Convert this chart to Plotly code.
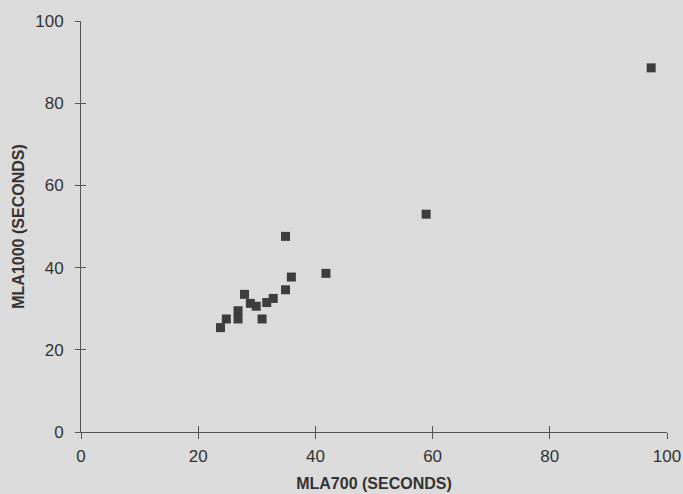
import plotly.graph_objects as go

# Data
mla700 = [23.8, 24.8, 26.8, 26.8, 27.9, 28.9, 29.9, 30.9, 31.7, 32.8, 34.9, 34.9, 35.9, 41.8, 58.9, 97.3]
mla1000 = [25.4, 27.5, 29.5, 27.5, 33.5, 31.3, 30.6, 27.5, 31.5, 32.5, 34.6, 47.6, 37.7, 38.6, 53.0, 88.6]
tick_vals = [0, 20, 40, 60, 80, 100]
x_title = "MLA700 (SECONDS)"
y_title = "MLA1000 (SECONDS)"

BG = "#dcdcdc"
AX = "#555555"
TXT = "#333333"
FONT = "Liberation Sans, Arial, sans-serif"

fig = go.Figure()
fig.add_trace(go.Scatter(
    x=mla700, y=mla1000, mode="markers",
    marker=dict(symbol="square", size=9, color="#3d3d3d", line=dict(width=0)),
    cliponaxis=False, showlegend=False, hoverinfo="x+y",
))
# empty trace to anchor the overlay axes (inside half of crossing ticks)
fig.add_trace(go.Scatter(x=[], y=[], xaxis="x2", yaxis="y2", showlegend=False))

common = dict(range=[0, 100], tickvals=tick_vals, showgrid=False, zeroline=False,
              showline=True, linecolor=AX, linewidth=1, tickcolor=AX, tickwidth=1,
              automargin=False)

fig.update_layout(
    width=683, height=494,
    margin=dict(l=81, r=16, t=21, b=62),
    paper_bgcolor=BG, plot_bgcolor=BG,
    font=dict(family=FONT, color=TXT, size=17),
    xaxis=dict(**common, ticks="outside", ticklen=6, ticklabelstandoff=3,
               tickfont=dict(size=17, color=TXT),
               title=dict(text=f"<b>{x_title}</b>", font=dict(size=16, color=TXT), standoff=12)),
    yaxis=dict(**common, ticks="outside", ticklen=5, ticklabelstandoff=8,
               tickfont=dict(size=17, color=TXT),
               title=dict(text=f"<b>{y_title}</b>", font=dict(size=16, color=TXT), standoff=6)),
    xaxis2=dict(**common, overlaying="x", anchor="y2", ticks="inside", ticklen=6,
                showticklabels=False),
    yaxis2=dict(**common, overlaying="y", anchor="x2", ticks="inside", ticklen=5,
                showticklabels=False),
)

fig.write_html("out.html")
